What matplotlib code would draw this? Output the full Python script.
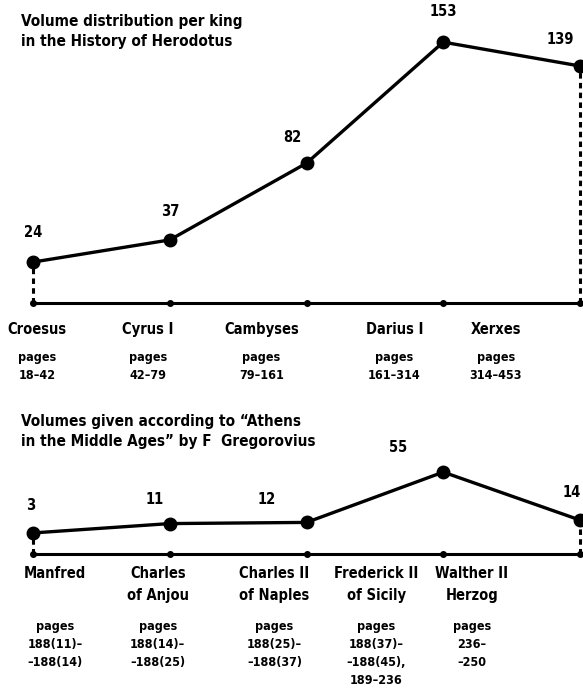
import matplotlib
matplotlib.use('Agg')
import matplotlib.pyplot as plt

# Datos: Heródoto
kings_h = ['Croesus', 'Cyrus I', 'Cambyses', 'Darius I', 'Xerxes']
vol_h = [24, 37, 82, 153, 139]
pages_h = ['pages\n18–42', 'pages\n42–79', 'pages\n79–161', 'pages\n161–314', 'pages\n314–453']

# Datos: Gregorovius
kings_g = ['Manfred', 'Charles\nof Anjou', 'Charles II\nof Naples', 'Frederick II\nof Sicily', 'Walther II\nHerzog']
vol_g = [3, 11, 12, 55, 14]
pages_g = ['pages\n188(11)–\n–188(14)', 'pages\n188(14)–\n–188(25)', 'pages\n188(25)–\n–188(37)',
           'pages\n188(37)–\n–188(45),\n189–236', 'pages\n236–\n–250']

plt.rcParams['font.family'] = ['DejaVu Sans']
plt.rcParams['font.stretch'] = 'condensed'
plt.rcParams['font.weight'] = 'bold'

W, H = 583, 695
fig = plt.figure(figsize=(W / 100, H / 100), dpi=100)


def panel(top, bottom, base_y, scale, base_val, title, kings, vols, pages,
          name_dx, val_off, name_dy, pages_dy):
    ax = fig.add_axes([0, 1 - bottom / H, 1, (bottom - top) / H])
    ax.set_axis_off()
    x = list(range(len(vols)))
    # escala x: 0 -> 33 px, 4 -> 580 px
    ppu = (580 - 33) / 4
    ax.set_xlim(-33 / ppu, (W - 33) / ppu)
    ax.set_ylim(base_val - (bottom - base_y) / scale, base_val + (base_y - top) / scale)
    # línea base con puntos
    ax.plot([x[0], x[-1] + 0.02], [base_val, base_val], color='black', lw=2.2, zorder=2)
    ax.plot(x, [base_val] * len(x), 'o', color='black', ms=4, zorder=3)
    # líneas punteadas en los extremos
    for i in (0, len(x) - 1):
        ax.plot([x[i], x[i]], [base_val, vols[i]], color='black', lw=2.2,
                linestyle=(0, (1.8, 1.4)), zorder=1)
    ax.plot(x, vols, '-o', color='black', lw=2.4, ms=9, zorder=4)
    for i, v in enumerate(vols):
        ax.annotate(str(v), xy=(x[i], v), xytext=val_off[i], textcoords='offset pixels',
                    ha='center', va='center', fontsize=10.5)
        ax.annotate(kings[i], xy=(x[i], base_val), xytext=(name_dx[i], name_dy),
                    textcoords='offset pixels', ha='center', va='top', fontsize=10.5,
                    linespacing=1.6)
        ax.annotate(pages[i], xy=(x[i], base_val), xytext=(name_dx[i], pages_dy),
                    textcoords='offset pixels', ha='center', va='top', fontsize=9,
                    linespacing=1.5)
    ax.text(21 / W, 1 - 14 / (bottom - top), title, transform=ax.transAxes,
            ha='left', va='top', fontsize=11, linespacing=1.45)
    return ax


panel(0, 400, 303, 1.705, 0,
      'Volume distribution per king\nin the History of Herodotus',
      kings_h, vol_h, pages_h,
      [4, -22, -45, -49, -84],
      [(0, 30), (0, 28), (-14, 26), (0, 31), (-20, 27)],
      -19, -48)

panel(400, 695, 554, 1.17, -15,
      'Volumes given according to “Athens\nin the Middle Ages” by F  Gregorovius',
      kings_g, vol_g, pages_g,
      [22, -12, -32, -67, -108],
      [(-2, 27), (-15, 24), (-40, 23), (-45, 25), (-8, 28)],
      -12, -66)

fig.savefig('out.png', dpi=100)
